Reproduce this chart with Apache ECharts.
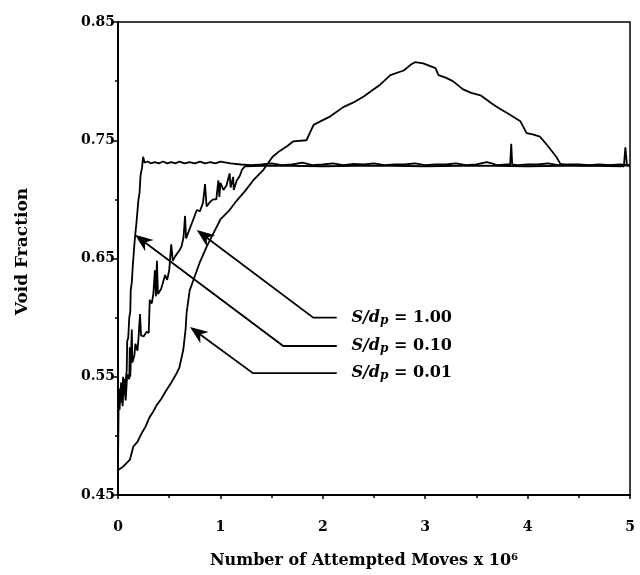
<!DOCTYPE html>
<html>
<head>
<meta charset="utf-8">
<script src="https://cdn.jsdelivr.net/npm/echarts@6/dist/echarts.min.js"></script>
<style>
    html, body { margin: 0; padding: 0; background: #fff; }
    #main { width: 640px; height: 575px; }
</style>
</head>
<body>
<div id="main"></div>
<script>
    // S/dp = 0.10 (steep one, plateau right away)
    var s010 = [
        [0, 0.47], [0.004, 0.525], [0.02, 0.54], [0.035, 0.528], [0.05, 0.55], [0.065, 0.535],
        [0.075, 0.547], [0.085, 0.555], [0.09, 0.58], [0.1, 0.583], [0.11, 0.6], [0.12, 0.605],
        [0.124, 0.623], [0.135, 0.63], [0.145, 0.645], [0.15, 0.65], [0.16, 0.662], [0.166, 0.668],
        [0.18, 0.68], [0.19, 0.69], [0.2, 0.7], [0.21, 0.705], [0.22, 0.72], [0.235, 0.727],
        [0.245, 0.736], [0.26, 0.731], [0.29, 0.732], [0.32, 0.7305], [0.36, 0.7315], [0.4, 0.7305],
        [0.44, 0.732], [0.48, 0.7305], [0.52, 0.7315], [0.56, 0.7305], [0.6, 0.732], [0.65, 0.7305],
        [0.7, 0.7315], [0.75, 0.7305], [0.8, 0.732], [0.85, 0.7305], [0.9, 0.7315], [0.95, 0.7305],
        [1.0, 0.732], [1.1, 0.7305], [1.2, 0.7295], [1.3, 0.729], [1.4, 0.7295], [1.5, 0.7305],
        [1.6, 0.729], [1.7, 0.7295], [1.8, 0.731], [1.9, 0.729], [2.0, 0.7295], [2.1, 0.7305],
        [2.2, 0.729], [2.3, 0.730], [2.4, 0.7295], [2.5, 0.7305], [2.6, 0.729], [2.7, 0.7295],
        [2.8, 0.7295], [2.9, 0.7305], [3.0, 0.729], [3.1, 0.7295], [3.2, 0.7295], [3.3, 0.7305],
        [3.4, 0.729], [3.5, 0.7295], [3.6, 0.7315], [3.65, 0.7305], [3.7, 0.729], [3.8, 0.7295],
        [3.83, 0.7295], [3.84, 0.747], [3.85, 0.7295], [3.9, 0.729], [4.0, 0.7295], [4.1, 0.7295],
        [4.2, 0.7305], [4.3, 0.729], [4.4, 0.7295], [4.5, 0.7295], [4.6, 0.729], [4.7, 0.7295],
        [4.8, 0.729], [4.9, 0.7295], [5.0, 0.729]
    ];

    // S/dp = 1.00 (jagged one)
    var s100 = [
        [0, 0.47], [0.004, 0.53], [0.015, 0.522], [0.03, 0.545], [0.045, 0.525], [0.06, 0.548],
        [0.075, 0.53], [0.09, 0.552], [0.11, 0.548], [0.115, 0.575], [0.12, 0.55], [0.135, 0.59],
        [0.14, 0.562], [0.16, 0.568], [0.17, 0.578], [0.19, 0.572], [0.2, 0.582], [0.215, 0.603],
        [0.225, 0.585], [0.25, 0.584], [0.28, 0.588], [0.3, 0.587], [0.31, 0.615], [0.33, 0.612],
        [0.345, 0.62], [0.36, 0.64], [0.37, 0.618], [0.38, 0.648], [0.39, 0.62], [0.42, 0.624],
        [0.44, 0.63], [0.46, 0.636], [0.48, 0.632], [0.5, 0.64], [0.52, 0.662], [0.535, 0.648],
        [0.56, 0.652], [0.6, 0.657], [0.62, 0.66], [0.64, 0.668], [0.655, 0.686], [0.665, 0.667],
        [0.7, 0.675], [0.735, 0.683], [0.77, 0.691], [0.8, 0.69], [0.83, 0.697], [0.85, 0.713],
        [0.865, 0.694], [0.9, 0.698], [0.93, 0.7], [0.96, 0.7], [0.98, 0.716], [0.99, 0.702],
        [1.0, 0.714], [1.03, 0.708], [1.06, 0.712], [1.09, 0.722], [1.1, 0.71], [1.125, 0.719],
        [1.13, 0.708], [1.16, 0.716], [1.19, 0.72], [1.21, 0.725], [1.24, 0.728], [1.5, 0.7285],
        [2.0, 0.728], [2.5, 0.7285], [3.0, 0.728], [3.5, 0.7285], [4.0, 0.728], [4.5, 0.7285],
        [4.94, 0.728], [4.955, 0.744], [4.97, 0.729], [5.0, 0.728]
    ];

    // S/dp = 0.01 (slow one, overshoots to ~0.82)
    var s001 = [
        [0, 0.471], [0.05, 0.474], [0.117, 0.48], [0.15, 0.491], [0.19, 0.495], [0.23, 0.502],
        [0.27, 0.508], [0.31, 0.516], [0.34, 0.52], [0.378, 0.526], [0.42, 0.531], [0.475, 0.539],
        [0.52, 0.545], [0.573, 0.553], [0.6, 0.558], [0.638, 0.573], [0.66, 0.59], [0.67, 0.604],
        [0.7, 0.623], [0.75, 0.635], [0.8, 0.647], [0.866, 0.66], [0.93, 0.671], [1.0, 0.683],
        [1.08, 0.69], [1.16, 0.699], [1.24, 0.707], [1.32, 0.716], [1.42, 0.725], [1.51, 0.736],
        [1.58, 0.741], [1.65, 0.745], [1.71, 0.749], [1.84, 0.75], [1.91, 0.763], [2.0, 0.767],
        [2.07, 0.77], [2.2, 0.778], [2.3, 0.782], [2.4, 0.787], [2.48, 0.792], [2.56, 0.797],
        [2.66, 0.805], [2.79, 0.809], [2.86, 0.814], [2.9, 0.816], [2.98, 0.815], [3.1, 0.811],
        [3.13, 0.805], [3.2, 0.803], [3.27, 0.8], [3.37, 0.793], [3.45, 0.79], [3.54, 0.788],
        [3.65, 0.781], [3.72, 0.777], [3.8, 0.773], [3.93, 0.766], [3.99, 0.756], [4.05, 0.755],
        [4.12, 0.753], [4.19, 0.746], [4.28, 0.736], [4.32, 0.73], [4.4, 0.729], [4.6, 0.7285],
        [4.8, 0.729], [5.0, 0.7285]
    ];

    // labels and where their arrows point
    var labelNames = ['1.00', '0.10', '0.01'];
    var arrowTips = [[0.769, 0.674], [0.166, 0.670], [0.703, 0.592]];
    var arrowElbows = [[1.907, 0.600], [1.614, 0.576], [1.318, 0.553]];
    var lineEndX = 2.136;
    var labelX = 2.28;

    var serif = 'DejaVu Serif';

    var myChart = echarts.init(document.getElementById('main'));

    function lineSeries(data) {
        return {
            type: 'line',
            data: data,
            showSymbol: false,
            animation: false,
            lineStyle: { color: '#000', width: 1.8 }
        };
    }

    var option = {
        backgroundColor: '#fff',
        animation: false,
        grid: {
            left: 118, right: 10, top: 22, bottom: 80,
            show: true,
            borderColor: '#000',
            borderWidth: 1.5
        },
        xAxis: {
            type: 'value',
            min: 0,
            max: 5,
            interval: 1,
            name: 'Number of Attempted Moves x 10⁶',
            nameLocation: 'middle',
            nameGap: 58,
            nameTextStyle: { fontFamily: serif, fontWeight: 'bold', fontSize: 16, color: '#000', padding: [0, 20, 0, 0] },
            axisLine: { lineStyle: { color: '#000', width: 2 } },
            axisTick: { length: 4, lineStyle: { color: '#000', width: 1.5 } },
            minorTick: { show: true, splitNumber: 2, length: 3, lineStyle: { color: '#000', width: 1.5 } },
            splitLine: { show: false },
            axisLabel: { fontFamily: serif, fontWeight: 'bold', fontSize: 14, color: '#000', margin: 25 }
        },
        yAxis: {
            type: 'value',
            min: 0.45,
            max: 0.85,
            interval: 0.1,
            name: 'Void Fraction',
            nameLocation: 'middle',
            nameGap: 87,
            nameTextStyle: { fontFamily: serif, fontWeight: 'bold', fontSize: 17, color: '#000', padding: [0, 0, 0, 14] },
            axisLine: { lineStyle: { color: '#000', width: 2 } },
            axisTick: { length: 6, lineStyle: { color: '#000', width: 1.5 } },
            minorTick: { show: true, splitNumber: 2, length: 3, lineStyle: { color: '#000', width: 1.5 } },
            splitLine: { show: false },
            axisLabel: {
                fontFamily: serif, fontWeight: 'bold', fontSize: 14, color: '#000', margin: 3,
                formatter: function(v) { return v.toFixed(2); }
            }
        },
        series: [lineSeries(s001), lineSeries(s100), lineSeries(s010)]
    };
    myChart.setOption(option);

    // arrows + labels, placed in data coordinates
    var graphics = [];
    for (var i = 0; i < labelNames.length; i++) {
        var tip = myChart.convertToPixel({ gridIndex: 0 }, arrowTips[i]);
        var elb = myChart.convertToPixel({ gridIndex: 0 }, arrowElbows[i]);
        var end = myChart.convertToPixel({ gridIndex: 0 }, [lineEndX, arrowElbows[i][1]]);
        var lab = myChart.convertToPixel({ gridIndex: 0 }, [labelX, arrowElbows[i][1]]);

        // arrow head
        var dx = elb[0] - tip[0], dy = elb[1] - tip[1];
        var len = Math.sqrt(dx * dx + dy * dy);
        var ux = dx / len, uy = dy / len;
        var hl = 18, hw = 7;
        var bx = tip[0] + ux * hl, by = tip[1] + uy * hl;
        var nx = tip[0] + ux * hl * 0.7, ny = tip[1] + uy * hl * 0.7;

        graphics.push({
            type: 'polyline',
            shape: { points: [[nx, ny], elb, end] },
            style: { stroke: '#000', lineWidth: 1.8, fill: null },
            z: 100
        });
        graphics.push({
            type: 'polygon',
            shape: { points: [tip, [bx - uy * hw, by + ux * hw], [nx, ny], [bx + uy * hw, by - ux * hw]] },
            style: { fill: '#000' },
            z: 100
        });
        graphics.push({
            type: 'text',
            x: lab[0],
            y: lab[1],
            style: {
                text: '{it|S/d}{sub|p}{n| = ' + labelNames[i] + '}',
                verticalAlign: 'middle',
                rich: {
                    it: { fontFamily: serif, fontWeight: 'bold', fontStyle: 'italic', fontSize: 16, fill: '#000' },
                    sub: { fontFamily: serif, fontWeight: 'bold', fontStyle: 'italic', fontSize: 12, fill: '#000', padding: [6, 0, 0, 0] },
                    n: { fontFamily: serif, fontWeight: 'bold', fontSize: 16, fill: '#000' }
                }
            },
            z: 100
        });
    }
    myChart.setOption({ graphic: graphics });
</script>
</body>
</html>
